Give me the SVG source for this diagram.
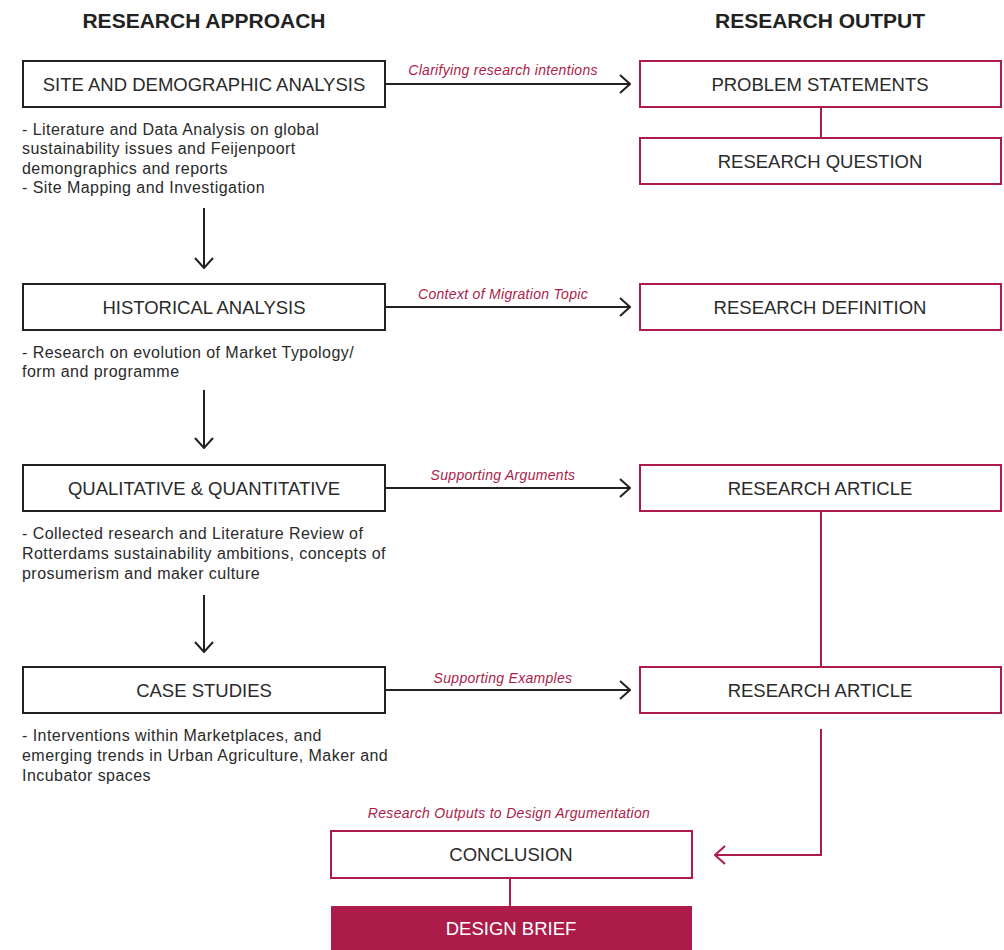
<svg xmlns="http://www.w3.org/2000/svg" width="1004" height="950" viewBox="0 0 1004 950">
<defs>
<marker id="ab" viewBox="0 0 12 20" refX="11" refY="10" markerWidth="12" markerHeight="20" markerUnits="userSpaceOnUse" orient="auto"><path d="M1,1 L11,10 L1,19" fill="none" stroke="#222" stroke-width="2"/></marker>
<marker id="ar" viewBox="0 0 12 20" refX="11" refY="10" markerWidth="12" markerHeight="20" markerUnits="userSpaceOnUse" orient="auto"><path d="M1,1 L11,10 L1,19" fill="none" stroke="#ad1c48" stroke-width="2"/></marker>
</defs>
<style>
.hd{font-family:"Liberation Sans",Arial,sans-serif;font-weight:bold;font-size:21px;fill:#222;text-anchor:middle}
.bl{fill:#fff;stroke:#222;stroke-width:2}
.rd{fill:#fff;stroke:#ad1c48;stroke-width:2}
.bt{font-family:"Liberation Sans",Arial,sans-serif;font-size:18.5px;fill:#2a2a2a;text-anchor:middle}
.ds{font-family:"Liberation Sans",Arial,sans-serif;font-size:16px;letter-spacing:0.45px;fill:#2a2a2a}
.lb{font-family:"Liberation Sans",Arial,sans-serif;font-size:14px;letter-spacing:0.3px;font-style:italic;fill:#ad1c48;text-anchor:middle}
.cb{stroke:#222;stroke-width:2;fill:none}
.cr{stroke:#ad1c48;stroke-width:2;fill:none}
</style>
<rect width="1004" height="950" fill="#fff"/>
<text class="hd" x="204" y="28">RESEARCH APPROACH</text>
<text class="hd" x="820" y="28">RESEARCH OUTPUT</text>

<g id="connectors">
<path class="cb" d="M385,84 H630" marker-end="url(#ab)"/>
<path class="cb" d="M385,307 H630" marker-end="url(#ab)"/>
<path class="cb" d="M385,488 H630" marker-end="url(#ab)"/>
<path class="cb" d="M385,690 H630" marker-end="url(#ab)"/>
<path class="cb" d="M204,208 V268" marker-end="url(#ab)"/>
<path class="cb" d="M204,390 V448" marker-end="url(#ab)"/>
<path class="cb" d="M204,595 V652" marker-end="url(#ab)"/>
<path class="cr" d="M821,107 V138"/>
<path class="cr" d="M821,511 V667"/>
<path class="cr" d="M821,729 V855 H715" marker-end="url(#ar)"/>
<path class="cr" d="M510,878 V906"/>
<text class="lb" x="503" y="75">Clarifying research intentions</text>
<text class="lb" x="503" y="299">Context of Migration Topic</text>
<text class="lb" x="503" y="480">Supporting Arguments</text>
<text class="lb" x="503" y="683">Supporting Examples</text>
<text class="lb" x="509" y="818">Research Outputs to Design Argumentation</text>
</g>

<g id="site">
<rect class="bl" x="23" y="61" width="362" height="46"/>
<text class="bt" x="204" y="91">SITE AND DEMOGRAPHIC ANALYSIS</text>
<text class="ds" x="22" y="135">- Literature and Data Analysis on global</text>
<text class="ds" x="22" y="154">sustainability issues and Feijenpoort</text>
<text class="ds" x="22" y="174">demongraphics and reports</text>
<text class="ds" x="22" y="193">- Site Mapping and Investigation</text>
</g>
<g id="historical">
<rect class="bl" x="23" y="284" width="362" height="46"/>
<text class="bt" x="204" y="314">HISTORICAL ANALYSIS</text>
<text class="ds" x="22" y="358">- Research on evolution of Market Typology/</text>
<text class="ds" x="22" y="377">form and programme</text>
</g>
<g id="qualquant">
<rect class="bl" x="23" y="465" width="362" height="46"/>
<text class="bt" x="204" y="495">QUALITATIVE &amp; QUANTITATIVE</text>
<text class="ds" x="22" y="539">- Collected research and Literature Review of</text>
<text class="ds" x="22" y="559">Rotterdams sustainability ambitions, concepts of</text>
<text class="ds" x="22" y="579">prosumerism and maker culture</text>
</g>
<g id="casestudies">
<rect class="bl" x="23" y="667" width="362" height="46"/>
<text class="bt" x="204" y="697">CASE STUDIES</text>
<text class="ds" x="22" y="741">- Interventions within Marketplaces, and</text>
<text class="ds" x="22" y="761">emerging trends in Urban Agriculture, Maker and</text>
<text class="ds" x="22" y="781">Incubator spaces</text>
</g>
<g id="problem">
<rect class="rd" x="640" y="61" width="361" height="46"/>
<text class="bt" x="820" y="91">PROBLEM STATEMENTS</text>
</g>
<g id="question">
<rect class="rd" x="640" y="138" width="361" height="46"/>
<text class="bt" x="820" y="168">RESEARCH QUESTION</text>
</g>
<g id="definition">
<rect class="rd" x="640" y="284" width="361" height="46"/>
<text class="bt" x="820" y="314">RESEARCH DEFINITION</text>
</g>
<g id="article1">
<rect class="rd" x="640" y="465" width="361" height="46"/>
<text class="bt" x="820" y="495">RESEARCH ARTICLE</text>
</g>
<g id="article2">
<rect class="rd" x="640" y="667" width="361" height="46"/>
<text class="bt" x="820" y="697">RESEARCH ARTICLE</text>
</g>
<g id="conclusion">
<rect class="rd" x="331" y="831" width="361" height="47"/>
<text class="bt" x="511" y="861">CONCLUSION</text>
</g>
<g id="brief">
<rect x="331" y="906" width="361" height="50" fill="#ad1c48"/>
<text class="bt" x="511" y="935" style="fill:#fff">DESIGN BRIEF</text>
</g>
</svg>
